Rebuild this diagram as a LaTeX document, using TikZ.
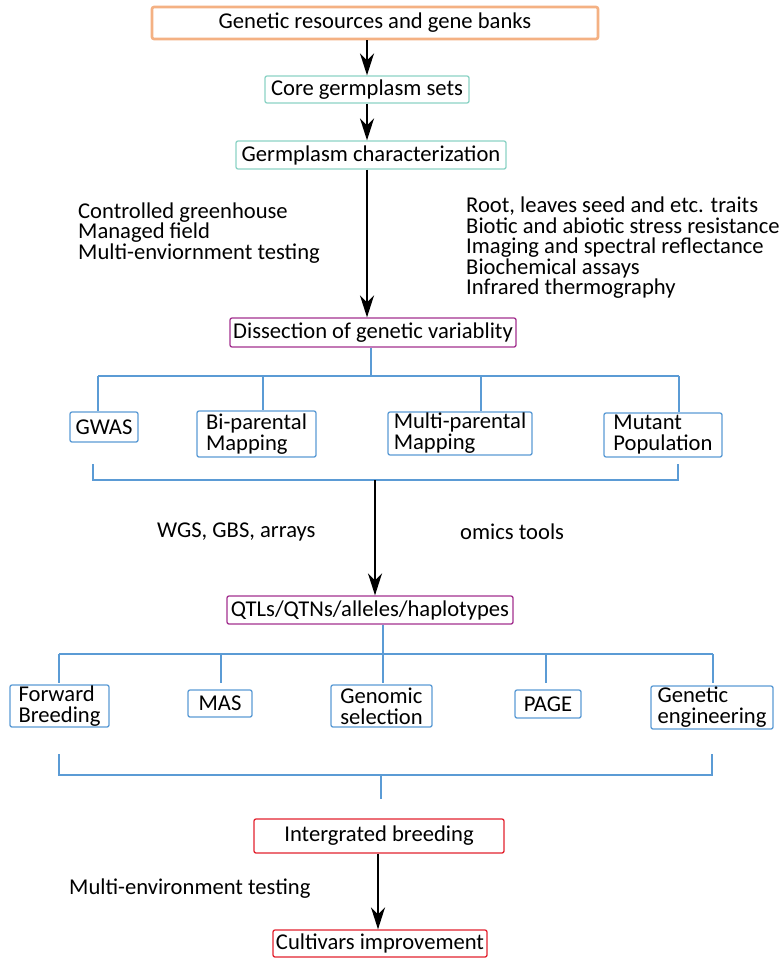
\documentclass[tikz,border=0pt]{standalone}
\usepackage{fontspec}
\setmainfont{Carlito}
\usepackage{xcolor}
\usetikzlibrary{arrows.meta}
\definecolor{bankorange}{HTML}{F4B183}
\definecolor{coreteal}{HTML}{8CD3C5}
\definecolor{dissviolet}{HTML}{A3318F}
\definecolor{treeblue}{HTML}{5B9BD5}
\definecolor{breedred}{HTML}{E3222F}

\begin{document}
\begin{tikzpicture}[x=1pt, y=-1pt,
    box/.style={draw, fill=white, rounded corners=2pt, inner sep=0pt, align=left,
      font=\fontsize{22.6}{21}\selectfont},
    bankbox/.style={box, draw=bankorange, line width=2.6pt},
    tealbox/.style={box, draw=coreteal, line width=1.3pt},
    violetbox/.style={box, draw=dissviolet, line width=1.3pt},
    bluebox/.style={box, draw=treeblue, line width=1.3pt},
    redbox/.style={box, draw=breedred, line width=1.3pt},
    note/.style={inner sep=0pt, anchor=west, align=left,
      font=\fontsize{22.6}{20.5}\selectfont},
    flow/.style={-{Stealth[length=22pt, width=14pt, inset=7pt]}, line width=2.4pt},
    tree/.style={draw=treeblue, line width=1.4pt}]
  \useasboundingbox (0,0) rectangle (782,958);

  % main column
  \node[bankbox, minimum width=446pt, minimum height=32pt] (bank) at (375,23) {Genetic resources and gene banks};
  \node[tealbox, minimum width=204pt, minimum height=27pt] (core) at (367,89.5) {Core germplasm sets};
  \node[tealbox, minimum width=270pt, minimum height=28pt] (charac) at (371,155) {Germplasm characterization};
  \node[violetbox, minimum width=286pt, minimum height=29pt] (diss) at (373,332.5) {Dissection of genetic variablity};

  \node[note] (envleft) at (78,233) {Controlled greenhouse\\Managed field\\Multi-enviornment testing};
  \node[note] (traits) at (466,248) {Root, leaves seed and etc. traits\\Biotic and abiotic stress resistance\\Imaging and spectral reflectance\\Biochemical assays\\Infrared thermography};

  \draw[flow] (core.north |- bank.south) -- (core.north);
  \draw[flow] (core.south) -- (core.south |- charac.north);
  \draw[flow] (charac.south -| core.south) -- (diss.north -| core.south);

  % mapping populations
  \node[bluebox, minimum width=68pt, minimum height=30pt] (gwas) at (104,427) {GWAS};
  \node[bluebox, minimum width=119pt, minimum height=46pt] (bipar) at (256.5,434) {Bi-parental\\Mapping};
  \node[bluebox, minimum width=144pt, minimum height=43pt] (multi) at (460,433.5) {Multi-parental\\Mapping};
  \node[bluebox, minimum width=118pt, minimum height=44pt] (mutant) at (663,435) {Mutant\\Population};

  \coordinate (split1) at (371,376);
  \draw[tree] (diss.south -| split1) -- (split1);
  \draw[tree] (98,376) -- (679,376);
  \foreach \x/\n in {98/gwas, 263/bipar, 481/multi, 679/mutant}{
    \coordinate (t\n) at (\x,376);
    \draw[tree] (t\n) -- (t\n |- \n.north);
  }
  \draw[tree] (93,464) -- (93,480) -- (678,480) -- (678,464);
  \coordinate (join1) at (375,480);

  \node[note] (seq) at (157,532) {WGS, GBS, arrays};
  \node[note] (omics) at (460,532) {omics tools};

  \node[violetbox, minimum width=286pt, minimum height=28pt] (qtl) at (370,610) {QTLs/QTNs/alleles/haplotypes};
  \draw[flow] (join1) -- (join1 |- qtl.north);

  % breeding approaches
  \node[bluebox, minimum width=99pt, minimum height=42pt] (fwd) at (59.5,706) {Forward\\Breeding};
  \node[bluebox, minimum width=64pt, minimum height=27pt] (mas) at (220,703.5) {MAS};
  \node[bluebox, minimum width=101pt, minimum height=42pt] (genomic) at (381.5,706) {Genomic\\selection};
  \node[bluebox, minimum width=66pt, minimum height=28pt] (page) at (548,704) {PAGE};
  \node[bluebox, minimum width=122pt, minimum height=43pt] (geneng) at (712,707.5) {Genetic\\engineering};

  \coordinate (split2) at (383,654);
  \draw[tree] (split2 |- qtl.south) -- (split2);
  \draw[tree] (59,654) -- (713,654);
  \foreach \x/\n in {59/fwd, 221/mas, 383/genomic, 546/page, 713/geneng}{
    \coordinate (u\n) at (\x,654);
    \draw[tree] (u\n) -- ++(0,29);
  }
  \draw[tree] (59,754) -- (59,775) -- (712,775) -- (712,754);
  \coordinate (join2) at (381,775);
  \draw[tree] (join2) -- ++(0,24);

  % final steps
  \node[redbox, minimum width=250pt, minimum height=34pt] (integ) at (379,836) {Intergrated breeding};
  \node[redbox, minimum width=214pt, minimum height=27pt] (cult) at (380,943.5) {Cultivars improvement};
  \node[note] (envtest) at (69,889) {Multi-environment testing};
  \coordinate (stem) at (378,0);
  \draw[flow] (integ.south -| stem) -- (cult.north -| stem);
\end{tikzpicture}
\end{document}
